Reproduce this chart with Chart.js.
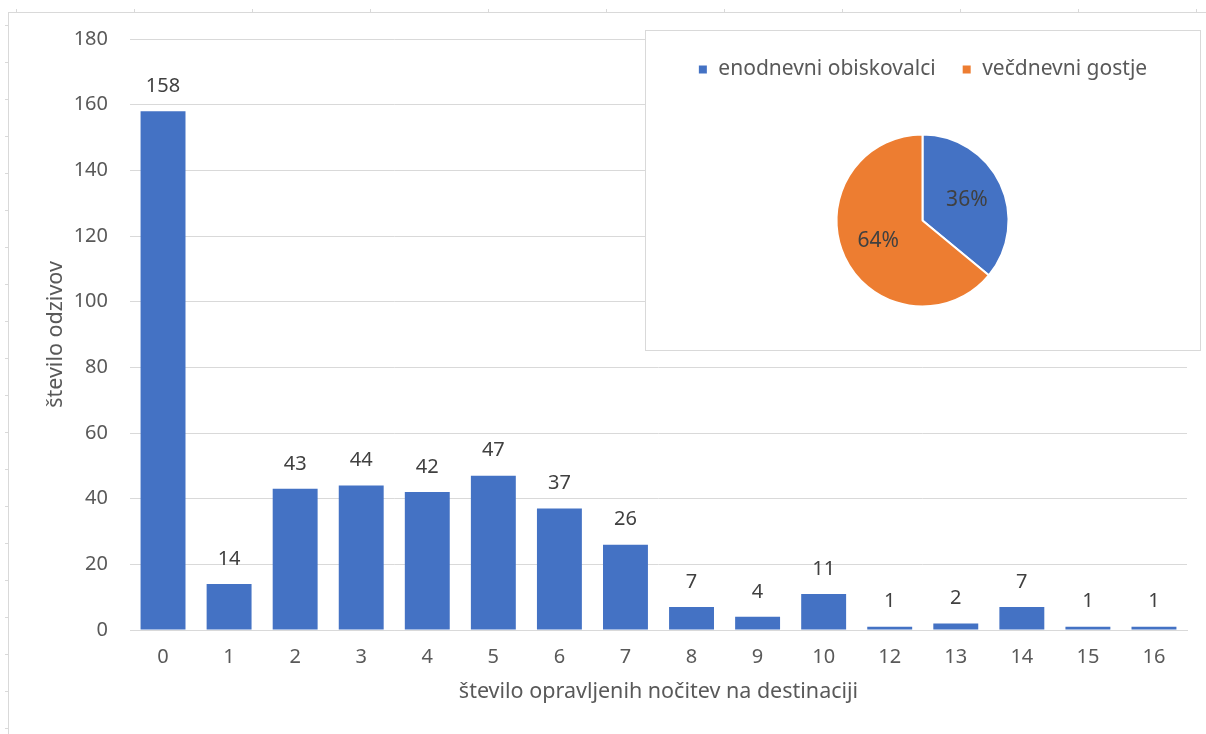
<!DOCTYPE html>
<html><head><meta charset="utf-8">
<script src="https://cdn.jsdelivr.net/npm/chart.js@4"></script>
<style>
html,body{margin:0;padding:0;background:#fff;}
#wrap{position:relative;width:1206px;height:734px;overflow:hidden;background:#fff;}
#main{position:absolute;left:0;top:0;}
#frameTop{position:absolute;left:8px;top:12px;width:1198px;height:1px;background:#d9d9d9;}
#frameLeft{position:absolute;left:8px;top:12px;width:1px;height:722px;background:#d9d9d9;}
#ticksTop{position:absolute;left:16px;top:9px;width:1190px;height:3px;background:repeating-linear-gradient(to right,#d9d9d9 0 1px,transparent 1px 118px);}
#ticksLeft{position:absolute;left:5px;top:25px;width:3px;height:709px;background:repeating-linear-gradient(to bottom,#d9d9d9 0 1px,transparent 1px 37px);}
#pieBox{position:absolute;left:645px;top:30px;width:554px;height:319px;border:1px solid #d9d9d9;background:#fff;}
#pie{position:absolute;left:645px;top:30px;}
</style>
</head><body>
<div id="wrap">
  <div id="frameTop"></div><div id="frameLeft"></div>
  <div id="ticksTop"></div><div id="ticksLeft"></div>
  <canvas id="main" width="1206" height="734"></canvas>
  <div id="pieBox"></div>
  <canvas id="pie" width="555" height="321"></canvas>
</div>
<script>
// ---- data ----
const categories = ['0','1','2','3','4','5','6','7','8','9','10','12','13','14','15','16'];
const responses = [158,14,43,44,42,47,37,26,7,4,11,1,2,7,1,1];
const yTicks = [0,20,40,60,80,100,120,140,160,180];
const pieLabels = ['enodnevni obiskovalci','večdnevni gostje'];
const pieValues = [36,64];
const xTitle = 'število opravljenih nočitev na destinaciji';
const yTitle = 'število odzivov';

const FONT = "'Noto Sans', 'Open Sans', sans-serif";
const BLUE = '#4472C4', ORANGE = '#ED7D31', GRID = '#d9d9d9';

const barLabels = {
  id: 'barLabels',
  afterDatasetsDraw(chart) {
    const ctx = chart.ctx;
    const meta = chart.getDatasetMeta(0);
    ctx.save();
    ctx.font = '20px ' + FONT;
    ctx.fillStyle = '#404040';
    ctx.textAlign = 'center';
    ctx.textBaseline = 'middle';
    meta.data.forEach((bar, i) => {
      ctx.fillText(String(responses[i]), bar.x, bar.y - 25);
    });
    ctx.restore();
  }
};

new Chart(document.getElementById('main'), {
  type: 'bar',
  data: {
    labels: categories,
    datasets: [{ data: responses, backgroundColor: BLUE, borderWidth: 0,
      barPercentage: 0.68, categoryPercentage: 1.0 }]
  },
  options: {
    responsive: false, animation: false,
    layout: { padding: { left: 43, right: 19, top: 39, bottom: 29 } },
    plugins: { legend: { display: false }, tooltip: { enabled: false } },
    scales: {
      x: {
        grid: { display: false, drawTicks: false },
        border: { display: true, color: GRID, width: 1 },
        ticks: { color: '#595959', font: { family: FONT, size: 20 }, padding: 15, maxRotation: 0 },
        title: { display: true, text: xTitle, color: '#595959', font: { family: FONT, size: 21.5 }, padding: 0 },
        afterFit(s) { s.height = 75; }
      },
      y: {
        min: 0, max: 180,
        grid: { color: GRID, drawTicks: false, lineWidth: 1 },
        border: { display: false },
        afterBuildTicks(s) { s.ticks = yTicks.map(v => ({ value: v })); },
        ticks: { color: '#595959', font: { family: FONT, size: 20 }, padding: 22 },
        title: { display: true, text: yTitle, color: '#595959', font: { family: FONT, size: 21.5 }, padding: 0 },
        afterFit(s) { s.width = 87; }
      }
    }
  },
  plugins: [barLabels]
});

const pieText = {
  id: 'pieText',
  afterDatasetsDraw(chart) {
    const ctx = chart.ctx;
    const meta = chart.getDatasetMeta(0);
    const total = pieValues.reduce((a, b) => a + b, 0);
    ctx.save();
    ctx.font = '21px ' + FONT;
    ctx.fillStyle = '#404040';
    ctx.textAlign = 'center';
    ctx.textBaseline = 'middle';
    meta.data.forEach((arc, i) => {
      const mid = (arc.startAngle + arc.endAngle) / 2;
      const r = arc.outerRadius * 0.57;
      ctx.fillText(Math.round(pieValues[i] / total * 100) + '%', arc.x + Math.cos(mid) * r, arc.y + Math.sin(mid) * r);
    });
    ctx.restore();
  }
};

new Chart(document.getElementById('pie'), {
  type: 'pie',
  data: {
    labels: pieLabels,
    datasets: [{ data: pieValues, backgroundColor: [BLUE, ORANGE], borderColor: '#fff', borderWidth: 2, radius: 86 }]
  },
  options: {
    responsive: false, animation: false,
    layout: { padding: { top: 3, bottom: 0, left: 0, right: 0 } },
    plugins: {
      tooltip: { enabled: false },
      legend: {
        position: 'top',
        labels: { boxWidth: 10, boxHeight: 10, padding: 26, color: '#595959', font: { family: FONT, size: 21 } }
      }
    }
  },
  plugins: [pieText]
});
</script>
</body></html>
